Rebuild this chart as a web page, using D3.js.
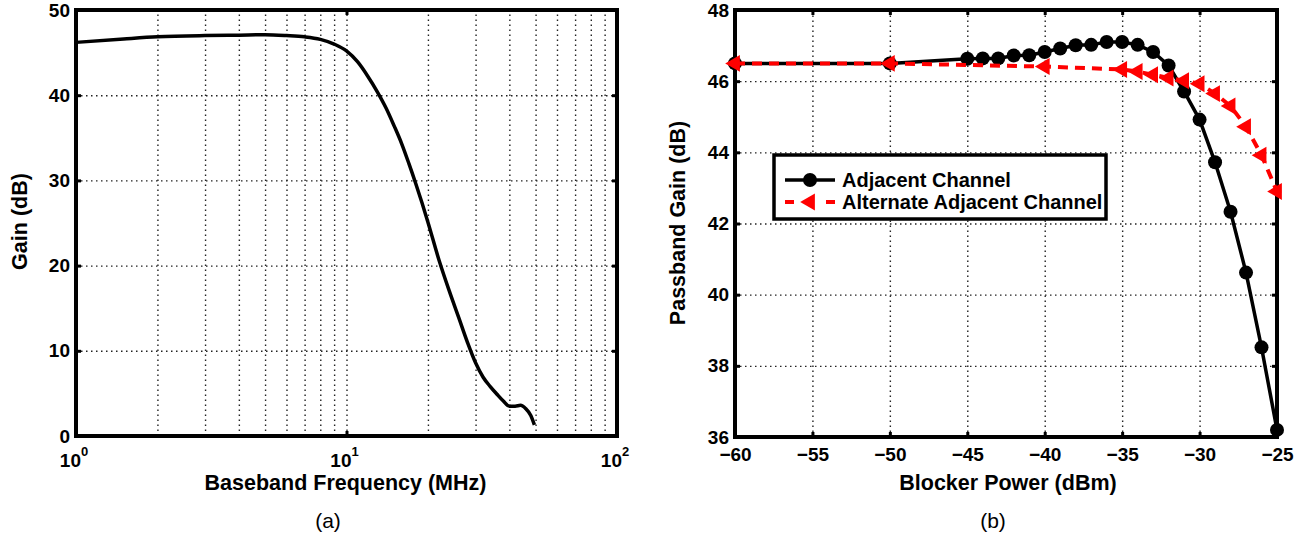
<!DOCTYPE html>
<html>
<head>
<meta charset="utf-8">
<script src="https://cdn.jsdelivr.net/npm/d3@7"></script>
<style>
	body { margin: 0; background: #fff; }
	text { font-family: "Liberation Sans", Arial, sans-serif; }
</style>
</head>
<body>
<div id="chart"></div>
<script>
// (a) gain vs baseband frequency
var freq = [1, 1.5, 2, 3, 4, 5, 6, 7, 8, 9, 10, 11, 12, 13, 14, 15, 16, 17, 18, 19, 20, 22, 24, 26, 28, 30, 32, 34, 36, 38, 40, 42, 44, 46, 48, 49.5];
var gain = [46.2, 46.6, 46.85, 47.0, 47.05, 47.1, 47.0, 46.85, 46.55, 46.0, 45.2, 43.9, 42.2, 40.4, 38.5, 36.4, 34.3, 32.0, 29.7, 27.4, 25.1, 20.6, 17.0, 13.9, 11.0, 8.6, 6.9, 5.8, 4.9, 4.1, 3.5, 3.5, 3.6, 3.2, 2.4, 1.3];
var freqGrid = [2, 3, 4, 5, 6, 7, 8, 9, 10, 20, 30, 40, 50, 60, 70, 80, 90];
var freqTicks = [1, 10, 100];
var freqExp = ["0", "1", "2"];
var gainTicks = [0, 10, 20, 30, 40, 50];

// (b) passband gain vs blocker power
var adjPower = [-60, -50, -45, -44, -43, -42, -41, -40, -39, -38, -37, -36, -35, -34, -33, -32, -31, -30, -29, -28, -27, -26, -25];
var adjGain = [46.5, 46.5, 46.63, 46.64, 46.64, 46.72, 46.73, 46.82, 46.92, 47.01, 47.02, 47.1, 47.1, 47.02, 46.82, 46.44, 45.71, 44.92, 43.72, 42.33, 40.62, 38.52, 36.2];
var altPower = [-60, -50, -40, -35, -34, -33, -32, -31, -30, -29, -28, -27, -26, -25];
var altGain = [46.5, 46.5, 46.41, 46.33, 46.27, 46.18, 46.09, 46.01, 45.93, 45.65, 45.3, 44.72, 43.92, 42.9];
var powerTicks = [-60, -55, -50, -45, -40, -35, -30, -25];
var pgainTicks = [36, 38, 40, 42, 44, 46, 48];
var legendNames = ["Adjacent Channel", "Alternate Adjacent Channel"];

function style_grid(g) {
	g.select(".domain").remove();
	g.selectAll("line")
		.attr("stroke", "#222")
		.attr("stroke-width", 1.4)
		.attr("stroke-dasharray", "1.5,3.5");
}

function style_ticks(g) {
	g.select(".domain").remove();
	g.selectAll("line")
		.attr("stroke", "black")
		.attr("stroke-width", 3);
	g.selectAll("text")
		.attr("fill", "black")
		.attr("font-size", 19)
		.attr("font-weight", "bold")
		.attr("font-family", "Liberation Sans, Arial, sans-serif");
}

function draw_page() {
	var w = 1314;
	var h = 541;

	var svg = d3.select("#chart")
				.append("svg")
				.attr("width", w)
				.attr("height", h);

	// ---------- (a) ----------
	var L = 76, R = 617, T = 10, B = 436;
	var xa = d3.scaleLog().domain([1, 100]).range([L, R]);
	var ya = d3.scaleLinear().domain([0, 50]).range([B, T]);

	svg.append("g")
		.attr("transform", "translate(0," + B + ")")
		.call(d3.axisBottom(xa).tickValues(freqGrid).tickSize(-(B - T)).tickFormat(""))
		.call(style_grid);
	svg.append("g")
		.attr("transform", "translate(" + L + ",0)")
		.call(d3.axisLeft(ya).tickValues([10, 20, 30, 40]).tickSize(-(R - L)).tickFormat(""))
		.call(style_grid);

	svg.append("rect")
		.attr("x", L).attr("y", T)
		.attr("width", R - L).attr("height", B - T)
		.attr("fill", "none")
		.attr("stroke", "black")
		.attr("stroke-width", 4);

	svg.append("g")
		.attr("transform", "translate(" + L + ",0)")
		.call(d3.axisLeft(ya).tickValues(gainTicks).tickSize(-5).tickPadding(6))
		.call(style_ticks);
	svg.append("g")
		.attr("transform", "translate(" + R + ",0)")
		.call(d3.axisRight(ya).tickValues(gainTicks).tickSize(-5).tickFormat(""))
		.call(style_ticks);
	svg.append("g")
		.attr("transform", "translate(0," + B + ")")
		.call(d3.axisBottom(xa).tickValues(freqTicks).tickSize(-5).tickFormat(""))
		.call(style_ticks);
	svg.append("g")
		.attr("transform", "translate(0," + T + ")")
		.call(d3.axisTop(xa).tickValues(freqTicks).tickSize(-5).tickFormat(""))
		.call(style_ticks);

	// 10^n labels
	var lx = svg.selectAll(".lx")
				.data(freqTicks)
				.enter()
				.append("text")
				.attr("class", "lx")
				.attr("x", d => xa(d) - 2)
				.attr("y", 467)
				.attr("text-anchor", "middle")
				.attr("font-size", 19)
				.attr("font-weight", "bold");
	lx.append("tspan").text("10");
	lx.append("tspan")
		.attr("dy", -11)
		.attr("font-size", 13)
		.text((d, i) => freqExp[i]);

	var curve = d3.line()
				  .x(d => xa(d[0]))
				  .y(d => ya(d[1]))
				  .curve(d3.curveMonotoneX);
	svg.append("path")
		.attr("d", curve(freq.map((f, i) => [f, gain[i]])))
		.attr("fill", "none")
		.attr("stroke", "black")
		.attr("stroke-width", 3.5);

	svg.append("text")
		.attr("x", (L + R) / 2 - 1)
		.attr("y", 490)
		.attr("text-anchor", "middle")
		.attr("font-size", 21.5)
		.attr("font-weight", "bold")
		.text("Baseband Frequency (MHz)");
	svg.append("text")
		.attr("transform", "translate(27," + 221.5 + ") rotate(-90)")
		.attr("text-anchor", "middle")
		.attr("font-size", 21.5)
		.attr("font-weight", "bold")
		.text("Gain (dB)");
	svg.append("text")
		.attr("x", 328)
		.attr("y", 528)
		.attr("text-anchor", "middle")
		.attr("font-size", 21)
		.text("(a)");

	// ---------- (b) ----------
	var L2 = 735, R2 = 1277, T2 = 10, B2 = 437;
	var xb = d3.scaleLinear().domain([-60, -25]).range([L2, R2]);
	var yb = d3.scaleLinear().domain([36, 48]).range([B2, T2]);

	svg.append("g")
		.attr("transform", "translate(0," + B2 + ")")
		.call(d3.axisBottom(xb).tickValues(powerTicks.slice(1, -1)).tickSize(-(B2 - T2)).tickFormat(""))
		.call(style_grid);
	svg.append("g")
		.attr("transform", "translate(" + L2 + ",0)")
		.call(d3.axisLeft(yb).tickValues(pgainTicks.slice(1, -1)).tickSize(-(R2 - L2)).tickFormat(""))
		.call(style_grid);

	svg.append("rect")
		.attr("x", L2).attr("y", T2)
		.attr("width", R2 - L2).attr("height", B2 - T2)
		.attr("fill", "none")
		.attr("stroke", "black")
		.attr("stroke-width", 4);

	svg.append("g")
		.attr("transform", "translate(" + L2 + ",0)")
		.call(d3.axisLeft(yb).tickValues(pgainTicks).tickSize(-5).tickPadding(6))
		.call(style_ticks);
	svg.append("g")
		.attr("transform", "translate(" + R2 + ",0)")
		.call(d3.axisRight(yb).tickValues(pgainTicks).tickSize(-5).tickFormat(""))
		.call(style_ticks);
	svg.append("g")
		.attr("transform", "translate(0," + B2 + ")")
		.call(d3.axisBottom(xb).tickValues(powerTicks).tickSize(-5).tickPadding(11))
		.call(style_ticks);
	svg.append("g")
		.attr("transform", "translate(0," + T2 + ")")
		.call(d3.axisTop(xb).tickValues(powerTicks).tickSize(-5).tickFormat(""))
		.call(style_ticks);

	var line2 = d3.line()
				  .x(d => xb(d[0]))
				  .y(d => yb(d[1]));
	var adj = adjPower.map((p, i) => [p, adjGain[i]]);
	var alt = altPower.map((p, i) => [p, altGain[i]]);

	svg.append("path")
		.attr("d", line2(adj))
		.attr("fill", "none")
		.attr("stroke", "black")
		.attr("stroke-width", 3.5);
	svg.selectAll(".dot")
		.data(adj)
		.enter()
		.append("circle")
		.attr("class", "dot")
		.attr("cx", d => xb(d[0]))
		.attr("cy", d => yb(d[1]))
		.attr("r", 7)
		.attr("fill", "black");

	svg.append("path")
		.attr("d", line2(alt))
		.attr("fill", "none")
		.attr("stroke", "#f00")
		.attr("stroke-width", 4)
		.attr("stroke-dasharray", "10,7");
	var tri = d3.symbol().type(d3.symbolTriangle).size(125);
	svg.selectAll(".tri")
		.data(alt)
		.enter()
		.append("path")
		.attr("class", "tri")
		.attr("d", tri)
		.attr("transform", d => "translate(" + xb(d[0]) + "," + yb(d[1]) + ") rotate(-90)")
		.attr("fill", "#f00");

	// legend
	var lg = svg.append("g").attr("transform", "translate(774,155)");
	lg.append("rect")
		.attr("width", 332)
		.attr("height", 64)
		.attr("fill", "white")
		.attr("stroke", "black")
		.attr("stroke-width", 3.5);
	lg.append("line")
		.attr("x1", 11).attr("x2", 61)
		.attr("y1", 25).attr("y2", 25)
		.attr("stroke", "black")
		.attr("stroke-width", 3.5);
	lg.append("circle")
		.attr("cx", 36).attr("cy", 25).attr("r", 7)
		.attr("fill", "black");
	lg.append("line")
		.attr("x1", 11).attr("x2", 61)
		.attr("y1", 47).attr("y2", 47)
		.attr("stroke", "#f00")
		.attr("stroke-width", 4)
		.attr("stroke-dasharray", "9,32,9");
	lg.append("path")
		.attr("d", tri)
		.attr("transform", "translate(36,47) rotate(-90)")
		.attr("fill", "#f00");
	lg.selectAll(".lt")
		.data(legendNames)
		.enter()
		.append("text")
		.attr("class", "lt")
		.attr("x", 68)
		.attr("y", (d, i) => 32 + i * 22)
		.attr("font-size", 20)
		.attr("font-weight", "bold")
		.text(d => d);

	svg.append("text")
		.attr("x", (L2 + R2) / 2 + 2)
		.attr("y", 490)
		.attr("text-anchor", "middle")
		.attr("font-size", 21.5)
		.attr("font-weight", "bold")
		.text("Blocker Power (dBm)");
	svg.append("text")
		.attr("transform", "translate(685," + 223 + ") rotate(-90)")
		.attr("text-anchor", "middle")
		.attr("font-size", 21.5)
		.attr("font-weight", "bold")
		.text("Passband Gain (dB)");
	svg.append("text")
		.attr("x", 993)
		.attr("y", 528)
		.attr("text-anchor", "middle")
		.attr("font-size", 21)
		.text("(b)");
}

draw_page();
</script>
</body>
</html>
